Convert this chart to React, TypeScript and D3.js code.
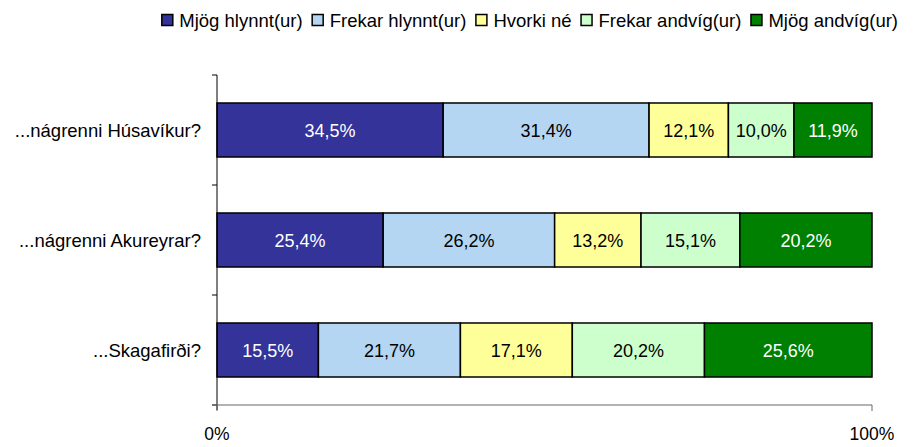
import React from "react";
import * as d3 from "d3";

const categories = ["...nágrenni Húsavíkur?", "...nágrenni Akureyrar?", "...Skagafirði?"];
const seriesNames = ["Mjög hlynnt(ur)", "Frekar hlynnt(ur)", "Hvorki né", "Frekar andvíg(ur)", "Mjög andvíg(ur)"];
const seriesColors = ["#333399", "#B4D6F2", "#FFFF99", "#CCFFCC", "#008000"];
const labelColors = ["#ffffff", "#000000", "#000000", "#000000", "#ffffff"];
const values = [
  [34.5, 31.4, 12.1, 10.0, 11.9],
  [25.4, 26.2, 13.2, 15.1, 20.2],
  [15.5, 21.7, 17.1, 20.2, 25.6],
];
const xTicks = [0, 100];

const FONT = "'Liberation Sans', Arial, sans-serif";

export default function App() {
  const W = 914, H = 447;
  const left = 217, right = 872, top = 75, bottom = 405;
  const x = d3.scaleLinear().domain([0, 100]).range([left, right]);
  const y = d3.scaleBand().domain(categories).range([top, bottom]).paddingInner(0.509).paddingOuter(0.2545);
  const bandStep = (bottom - top) / categories.length;
  const stacks = values.map((row) => {
    const total = d3.sum(row);
    let acc = 0;
    return row.map((v) => {
      const s = (acc / total) * 100;
      acc += v;
      const e = (acc / total) * 100;
      return { s, e, v };
    });
  });
  const fmt = (v: number) => v.toFixed(1).replace(".", ",") + "%";

  // legend layout: measure text widths with canvas
  const legendFont = 18.5;
  const ctx = typeof document !== "undefined" ? document.createElement("canvas").getContext("2d") : null;
  if (ctx) ctx.font = `${legendFont}px 'Liberation Sans', Arial, sans-serif`;
  const widths = seriesNames.map((n) => (ctx ? ctx.measureText(n).width : n.length * 8.5));
  const legendRight = 898;
  const sq = 12, gapAfterSq = 6, gapBetween = 9;
  const total = d3.sum(widths) + seriesNames.length * (sq + gapAfterSq) + (seriesNames.length - 1) * gapBetween;
  let lx = legendRight - total;
  const legendPos = widths.map((w) => {
    const p = lx;
    lx += sq + gapAfterSq + w + gapBetween;
    return p;
  });

  return (
    <svg width={W} height={H} style={{ position: "absolute", left: 0, top: 0, background: "#fff" }} fontFamily={FONT}>
      {/* legend */}
      {seriesNames.map((n, i) => (
        <g key={n}>
          <rect x={legendPos[i] + 0.5} y={14.5} width={sq - 1} height={sq - 1} fill={seriesColors[i]} stroke="#000" strokeWidth={1.5} />
          <text x={legendPos[i] + sq + gapAfterSq} y={26.5} fontSize={legendFont} fill="#000">{n}</text>
        </g>
      ))}
      {/* bars */}
      {categories.map((c, ci) => (
        <g key={c}>
          {stacks[ci].map((seg, si) => (
            <g key={si}>
              <rect
                x={x(seg.s)}
                y={y(c)!}
                width={x(seg.e) - x(seg.s)}
                height={y.bandwidth()}
                fill={seriesColors[si]}
                stroke="#000"
                strokeWidth={1.5}
              />
              <text
                x={(x(seg.s) + x(seg.e)) / 2}
                y={y(c)! + y.bandwidth() / 2 + 6.5}
                textAnchor="middle"
                fontSize={18}
                fill={labelColors[si]}
              >
                {fmt(seg.v)}
              </text>
            </g>
          ))}
          <text x={left - 16} y={y(c)! + y.bandwidth() / 2 + 6.5} textAnchor="end" fontSize={18.5} fill="#000">
            {c}
          </text>
        </g>
      ))}
      {/* y axis */}
      <line x1={left} x2={left} y1={top} y2={bottom + 5} stroke="#000" strokeWidth={1} />
      {d3.range(categories.length + 1).map((i) => (
        <line key={i} x1={left - 5} x2={left} y1={top + i * bandStep} y2={top + i * bandStep} stroke="#000" />
      ))}
      {/* x axis */}
      <line x1={left - 5} x2={right} y1={bottom} y2={bottom} stroke="#666" strokeWidth={1.2} />
      {xTicks.map((t) => (
        <g key={t}>
          <line x1={x(t)} x2={x(t)} y1={bottom} y2={bottom + 6} stroke="#666" />
          <text x={x(t)} y={bottom + 35} textAnchor="middle" fontSize={17.5} fill="#000">
            {t}%
          </text>
        </g>
      ))}
    </svg>
  );
}
